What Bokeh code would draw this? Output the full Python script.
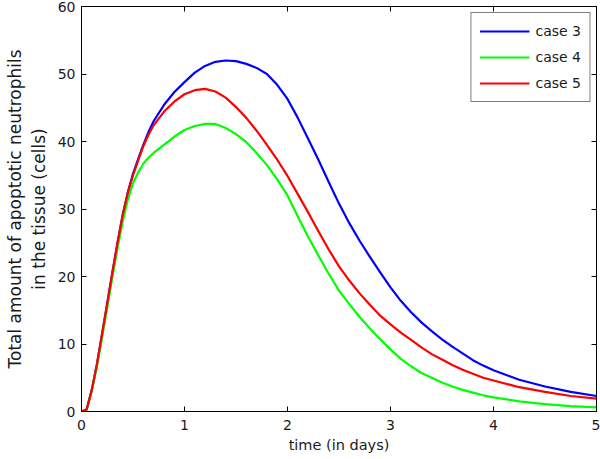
from bokeh.plotting import figure
from bokeh.models import LinearAxis, FixedTicker, Range1d, Legend, LegendItem
from bokeh.embed import file_html
from bokeh.resources import INLINE

t = [0, 0.05, 0.1, 0.15, 0.2, 0.25, 0.3, 0.35, 0.4, 0.45, 0.5, 0.55, 0.6, 0.65, 0.7,
     0.8, 0.9, 1.0, 1.1, 1.2, 1.3, 1.4, 1.5, 1.6, 1.7, 1.8, 1.9, 2.0, 2.1, 2.2, 2.3, 2.4,
     2.5, 2.6, 2.7, 2.8, 2.9, 3.0, 3.1, 3.2, 3.3, 3.4, 3.5, 3.6, 3.7, 3.8, 3.9, 4.0,
     4.25, 4.5, 4.75, 5.0]

case3 = [0, 0.3, 3.2, 7.0, 11.5, 16.0, 20.6, 25.0, 29.1, 32.5, 35.2, 37.4, 39.5, 41.4, 43.0,
         45.4, 47.3, 48.8, 50.2, 51.2, 51.8, 52.0, 51.9, 51.5, 50.9, 50.0, 48.4, 46.3, 43.5, 40.4, 37.3, 34.0,
         30.8, 27.9, 25.3, 22.9, 20.6, 18.4, 16.4, 14.7, 13.2, 11.9, 10.7, 9.6, 8.6, 7.6, 6.8, 6.1,
         4.7, 3.7, 2.9, 2.3]
case4 = [0, 0.3, 3.0, 6.7, 11.0, 15.4, 19.9, 24.2, 28.1, 31.4, 33.8, 35.4, 36.7, 37.6, 38.3,
         39.5, 40.7, 41.7, 42.3, 42.6, 42.6, 42.0, 41.1, 39.9, 38.3, 36.5, 34.4, 32.0, 28.9, 25.9, 23.1, 20.4,
         17.9, 15.9, 14.0, 12.3, 10.7, 9.2, 7.8, 6.7, 5.7, 5.0, 4.3, 3.7, 3.2, 2.8, 2.4, 2.1,
         1.5, 1.1, 0.8, 0.6]
case5 = [0, 0.3, 3.2, 7.0, 11.5, 16.0, 20.6, 25.0, 29.1, 32.4, 35.0, 37.2, 39.3, 41.0, 42.4,
         44.4, 45.9, 47.0, 47.6, 47.8, 47.4, 46.5, 45.1, 43.5, 41.6, 39.5, 37.3, 34.9, 32.2, 29.5, 26.7, 24.0,
         21.5, 19.4, 17.5, 15.8, 14.2, 12.9, 11.7, 10.6, 9.5, 8.5, 7.7, 6.9, 6.2, 5.6, 5.0, 4.6,
         3.6, 2.9, 2.3, 1.9]

labels = ["case 3", "case 4", "case 5"]
colors = ["#0000ff", "#00ff00", "#ff0000"]
x_ticks = [0, 1, 2, 3, 4, 5]
y_ticks = [0, 10, 20, 30, 40, 50, 60]

FONT = "DejaVu Sans"
TXT = "#1a1a1a"

p = figure(width=600, height=458, output_backend="svg", toolbar_location=None,
           x_range=Range1d(0, 5), y_range=Range1d(0, 60),
           min_border_left=81, min_border_top=6, min_border_right=4, min_border_bottom=47)
p.background_fill_color = "white"
p.border_fill_color = "white"
p.grid.visible = False
p.outline_line_color = "black"
p.outline_line_width = 1

rs = []
for ys, c in zip([case3, case4, case5], colors):
    rs.append(p.line(t, ys, line_color=c, line_width=2.2, line_join="round"))

def style(ax, ticks, show_labels=True):
    ax.ticker = FixedTicker(ticks=ticks)
    ax.axis_line_color = "black"
    ax.major_tick_line_color = "black"
    ax.major_tick_in = 5
    ax.major_tick_out = 0
    ax.minor_tick_line_color = None
    ax.major_label_text_font = FONT
    ax.major_label_text_color = TXT
    ax.major_label_text_font_size = "14px"
    if show_labels:
        ax.major_label_standoff = 8
    else:
        ax.major_label_overrides = {k: "" for k in ticks}
        ax.major_label_standoff = 0

style(p.xaxis[0], x_ticks)
style(p.yaxis[0], y_ticks)
p.yaxis[0].major_label_standoff = 6
p.xaxis[0].axis_label = "time (in days)"
p.xaxis[0].axis_label_text_font = FONT
p.xaxis[0].axis_label_text_font_size = "14.5px"
p.xaxis[0].axis_label_text_font_style = "normal"
p.xaxis[0].axis_label_text_color = TXT
p.xaxis[0].axis_label_standoff = 4
p.yaxis[0].axis_label = "Total amount of apoptotic neutrophils\nin the tissue (cells)"
p.yaxis[0].axis_label_text_font = FONT
p.yaxis[0].axis_label_text_font_size = "17px"
p.yaxis[0].axis_label_text_font_style = "normal"
p.yaxis[0].axis_label_text_color = TXT
p.yaxis[0].axis_label_standoff = 6

top = LinearAxis()
style(top, x_ticks, False)
p.add_layout(top, "above")
right = LinearAxis()
style(right, y_ticks, False)
p.add_layout(right, "right")

legend = Legend(items=[LegendItem(label=l, renderers=[r]) for l, r in zip(labels, rs)],
                location="top_right")
legend.border_line_color = "black"
legend.border_line_width = 1
legend.background_fill_color = "white"
legend.background_fill_alpha = 1
legend.label_text_font = FONT
legend.label_text_font_size = "14px"
legend.label_text_color = TXT
legend.glyph_width = 50
legend.glyph_height = 20
legend.label_height = 20
legend.label_standoff = 6
legend.spacing = 6
legend.padding = 8
legend.margin = 6
p.add_layout(legend, "center")

open("out.html", "w").write(file_html(p, INLINE))
